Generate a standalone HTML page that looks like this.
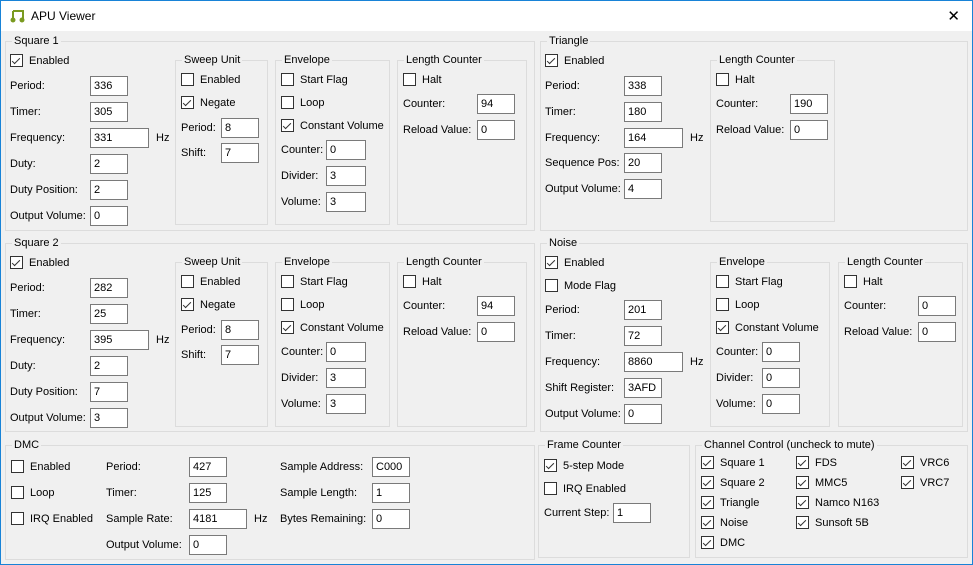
<!DOCTYPE html><html><head><meta charset="utf-8"><style>
*{box-sizing:border-box;margin:0;padding:0}
body{width:973px;height:565px;overflow:hidden;background:#f0f0f0;font:11px "Liberation Sans",sans-serif;color:#000;position:relative}
#win{position:absolute;left:0;top:0;width:973px;height:565px;border:1px solid #1883d7}
#tb{position:absolute;left:0;top:0;width:973px;height:31px;background:#fff;border:1px solid #1883d7;border-bottom:none}
#tb .tt{position:absolute;left:30px;top:8px;font-size:12px}
#tb .x{position:absolute;right:12px;top:6px;font-size:15px;font-weight:300}
.g{position:absolute;border:1px solid #dcdcdc}
.g>b{position:absolute;left:6px;top:-8px;font-weight:normal;background:#f0f0f0;padding:0 2px;line-height:14px;white-space:nowrap}
.l{position:absolute;line-height:14px;white-space:nowrap}
.t{position:absolute;height:20px;background:#fff;border:1px solid #7a7a7a;padding:2px 0 0 3px;line-height:14px}
.c{position:absolute;line-height:14px;white-space:nowrap;padding-left:19px}
.c::before{content:"";position:absolute;left:0;top:0;width:13px;height:13px;border:1px solid #333;background:#fff;box-sizing:border-box}
.c.k::after{content:"";position:absolute;left:4px;top:2px;width:3px;height:7px;border-right:1.3px solid #333;border-bottom:1.3px solid #333;transform:rotate(45deg)}
</style></head><body>
<div id="win"></div>
<div id="tb"><svg style="position:absolute;left:9px;top:7px" width="16" height="16"><path d="M3 3h10v9M3 3v9" stroke="#7a9a20" stroke-width="2" fill="none"/><circle cx="3" cy="12" r="2.5" fill="#7a9a20"/><circle cx="12" cy="12" r="2.5" fill="#7a9a20"/></svg><span class="tt">APU Viewer</span><span class="x">✕</span></div>

<!-- Square 1 -->
<div class="g" style="left:5px;top:41px;width:530px;height:190px"><b>Square 1</b></div>
<span class="c k" style="left:10px;top:54px">Enabled</span>
<span class="l" style="left:10px;top:79px">Period:</span><span class="t" style="left:90px;top:76px;width:38px">336</span>
<span class="l" style="left:10px;top:105px">Timer:</span><span class="t" style="left:90px;top:102px;width:38px">305</span>
<span class="l" style="left:10px;top:131px">Frequency:</span><span class="t" style="left:90px;top:128px;width:59px">331</span><span class="l" style="left:156px;top:131px">Hz</span>
<span class="l" style="left:10px;top:157px">Duty:</span><span class="t" style="left:90px;top:154px;width:38px">2</span>
<span class="l" style="left:10px;top:183px">Duty Position:</span><span class="t" style="left:90px;top:180px;width:38px">2</span>
<span class="l" style="left:10px;top:209px">Output Volume:</span><span class="t" style="left:90px;top:206px;width:38px">0</span>
<div class="g" style="left:175px;top:60px;width:93px;height:165px"><b>Sweep Unit</b></div>
<span class="c" style="left:181px;top:73px">Enabled</span>
<span class="c k" style="left:181px;top:96px">Negate</span>
<span class="l" style="left:181px;top:121px">Period:</span><span class="t" style="left:221px;top:118px;width:38px">8</span>
<span class="l" style="left:181px;top:146px">Shift:</span><span class="t" style="left:221px;top:143px;width:38px">7</span>
<div class="g" style="left:275px;top:60px;width:115px;height:165px"><b>Envelope</b></div>
<span class="c" style="left:281px;top:73px">Start Flag</span>
<span class="c" style="left:281px;top:96px">Loop</span>
<span class="c k" style="left:281px;top:119px">Constant Volume</span>
<span class="l" style="left:281px;top:143px">Counter:</span><span class="t" style="left:326px;top:140px;width:40px">0</span>
<span class="l" style="left:281px;top:169px">Divider:</span><span class="t" style="left:326px;top:166px;width:40px">3</span>
<span class="l" style="left:281px;top:195px">Volume:</span><span class="t" style="left:326px;top:192px;width:40px">3</span>
<div class="g" style="left:397px;top:60px;width:130px;height:165px"><b>Length Counter</b></div>
<span class="c" style="left:403px;top:73px">Halt</span>
<span class="l" style="left:403px;top:97px">Counter:</span><span class="t" style="left:477px;top:94px;width:38px">94</span>
<span class="l" style="left:403px;top:123px">Reload Value:</span><span class="t" style="left:477px;top:120px;width:38px">0</span>

<!-- Triangle -->
<div class="g" style="left:540px;top:41px;width:428px;height:190px"><b>Triangle</b></div>
<span class="c k" style="left:545px;top:54px">Enabled</span>
<span class="l" style="left:545px;top:79px">Period:</span><span class="t" style="left:624px;top:76px;width:38px">338</span>
<span class="l" style="left:545px;top:105px">Timer:</span><span class="t" style="left:624px;top:102px;width:38px">180</span>
<span class="l" style="left:545px;top:131px">Frequency:</span><span class="t" style="left:624px;top:128px;width:59px">164</span><span class="l" style="left:690px;top:131px">Hz</span>
<span class="l" style="left:545px;top:156px">Sequence Pos:</span><span class="t" style="left:624px;top:153px;width:38px">20</span>
<span class="l" style="left:545px;top:182px">Output Volume:</span><span class="t" style="left:624px;top:179px;width:38px">4</span>
<div class="g" style="left:710px;top:60px;width:125px;height:162px"><b>Length Counter</b></div>
<span class="c" style="left:716px;top:73px">Halt</span>
<span class="l" style="left:716px;top:97px">Counter:</span><span class="t" style="left:790px;top:94px;width:38px">190</span>
<span class="l" style="left:716px;top:123px">Reload Value:</span><span class="t" style="left:790px;top:120px;width:38px">0</span>

<!-- Square 2 -->
<div class="g" style="left:5px;top:243px;width:530px;height:189px"><b>Square 2</b></div>
<span class="c k" style="left:10px;top:256px">Enabled</span>
<span class="l" style="left:10px;top:281px">Period:</span><span class="t" style="left:90px;top:278px;width:38px">282</span>
<span class="l" style="left:10px;top:307px">Timer:</span><span class="t" style="left:90px;top:304px;width:38px">25</span>
<span class="l" style="left:10px;top:333px">Frequency:</span><span class="t" style="left:90px;top:330px;width:59px">395</span><span class="l" style="left:156px;top:333px">Hz</span>
<span class="l" style="left:10px;top:359px">Duty:</span><span class="t" style="left:90px;top:356px;width:38px">2</span>
<span class="l" style="left:10px;top:385px">Duty Position:</span><span class="t" style="left:90px;top:382px;width:38px">7</span>
<span class="l" style="left:10px;top:411px">Output Volume:</span><span class="t" style="left:90px;top:408px;width:38px">3</span>
<div class="g" style="left:175px;top:262px;width:93px;height:165px"><b>Sweep Unit</b></div>
<span class="c" style="left:181px;top:275px">Enabled</span>
<span class="c k" style="left:181px;top:298px">Negate</span>
<span class="l" style="left:181px;top:323px">Period:</span><span class="t" style="left:221px;top:320px;width:38px">8</span>
<span class="l" style="left:181px;top:348px">Shift:</span><span class="t" style="left:221px;top:345px;width:38px">7</span>
<div class="g" style="left:275px;top:262px;width:115px;height:165px"><b>Envelope</b></div>
<span class="c" style="left:281px;top:275px">Start Flag</span>
<span class="c" style="left:281px;top:298px">Loop</span>
<span class="c k" style="left:281px;top:321px">Constant Volume</span>
<span class="l" style="left:281px;top:345px">Counter:</span><span class="t" style="left:326px;top:342px;width:40px">0</span>
<span class="l" style="left:281px;top:371px">Divider:</span><span class="t" style="left:326px;top:368px;width:40px">3</span>
<span class="l" style="left:281px;top:397px">Volume:</span><span class="t" style="left:326px;top:394px;width:40px">3</span>
<div class="g" style="left:397px;top:262px;width:130px;height:165px"><b>Length Counter</b></div>
<span class="c" style="left:403px;top:275px">Halt</span>
<span class="l" style="left:403px;top:299px">Counter:</span><span class="t" style="left:477px;top:296px;width:38px">94</span>
<span class="l" style="left:403px;top:325px">Reload Value:</span><span class="t" style="left:477px;top:322px;width:38px">0</span>

<!-- Noise -->
<div class="g" style="left:540px;top:243px;width:428px;height:189px"><b>Noise</b></div>
<span class="c k" style="left:545px;top:256px">Enabled</span>
<span class="c" style="left:545px;top:279px">Mode Flag</span>
<span class="l" style="left:545px;top:303px">Period:</span><span class="t" style="left:624px;top:300px;width:38px">201</span>
<span class="l" style="left:545px;top:329px">Timer:</span><span class="t" style="left:624px;top:326px;width:38px">72</span>
<span class="l" style="left:545px;top:355px">Frequency:</span><span class="t" style="left:624px;top:352px;width:59px">8860</span><span class="l" style="left:690px;top:355px">Hz</span>
<span class="l" style="left:545px;top:381px">Shift Register:</span><span class="t" style="left:624px;top:378px;width:38px">3AFD</span>
<span class="l" style="left:545px;top:407px">Output Volume:</span><span class="t" style="left:624px;top:404px;width:38px">0</span>
<div class="g" style="left:710px;top:262px;width:120px;height:165px"><b>Envelope</b></div>
<span class="c" style="left:716px;top:275px">Start Flag</span>
<span class="c" style="left:716px;top:298px">Loop</span>
<span class="c k" style="left:716px;top:321px">Constant Volume</span>
<span class="l" style="left:716px;top:345px">Counter:</span><span class="t" style="left:762px;top:342px;width:38px">0</span>
<span class="l" style="left:716px;top:371px">Divider:</span><span class="t" style="left:762px;top:368px;width:38px">0</span>
<span class="l" style="left:716px;top:397px">Volume:</span><span class="t" style="left:762px;top:394px;width:38px">0</span>
<div class="g" style="left:838px;top:262px;width:125px;height:165px"><b>Length Counter</b></div>
<span class="c" style="left:844px;top:275px">Halt</span>
<span class="l" style="left:844px;top:299px">Counter:</span><span class="t" style="left:918px;top:296px;width:38px">0</span>
<span class="l" style="left:844px;top:325px">Reload Value:</span><span class="t" style="left:918px;top:322px;width:38px">0</span>

<!-- DMC -->
<div class="g" style="left:5px;top:445px;width:530px;height:115px"><b>DMC</b></div>
<span class="c" style="left:11px;top:460px">Enabled</span>
<span class="c" style="left:11px;top:486px">Loop</span>
<span class="c" style="left:11px;top:512px">IRQ Enabled</span>
<span class="l" style="left:106px;top:460px">Period:</span><span class="t" style="left:189px;top:457px;width:38px">427</span>
<span class="l" style="left:106px;top:486px">Timer:</span><span class="t" style="left:189px;top:483px;width:38px">125</span>
<span class="l" style="left:106px;top:512px">Sample Rate:</span><span class="t" style="left:189px;top:509px;width:58px">4181</span><span class="l" style="left:254px;top:512px">Hz</span>
<span class="l" style="left:106px;top:538px">Output Volume:</span><span class="t" style="left:189px;top:535px;width:38px">0</span>
<span class="l" style="left:280px;top:460px">Sample Address:</span><span class="t" style="left:372px;top:457px;width:38px">C000</span>
<span class="l" style="left:280px;top:486px">Sample Length:</span><span class="t" style="left:372px;top:483px;width:38px">1</span>
<span class="l" style="left:280px;top:512px">Bytes Remaining:</span><span class="t" style="left:372px;top:509px;width:38px">0</span>

<!-- Frame Counter -->
<div class="g" style="left:538px;top:445px;width:152px;height:113px"><b>Frame Counter</b></div>
<span class="c k" style="left:544px;top:459px">5-step Mode</span>
<span class="c" style="left:544px;top:482px">IRQ Enabled</span>
<span class="l" style="left:544px;top:506px">Current Step:</span><span class="t" style="left:613px;top:503px;width:38px">1</span>

<!-- Channel Control -->
<div class="g" style="left:695px;top:445px;width:273px;height:113px"><b>Channel Control (uncheck to mute)</b></div>
<span class="c k" style="left:701px;top:456px">Square 1</span>
<span class="c k" style="left:701px;top:476px">Square 2</span>
<span class="c k" style="left:701px;top:496px">Triangle</span>
<span class="c k" style="left:701px;top:516px">Noise</span>
<span class="c k" style="left:701px;top:536px">DMC</span>
<span class="c k" style="left:796px;top:456px">FDS</span>
<span class="c k" style="left:796px;top:476px">MMC5</span>
<span class="c k" style="left:796px;top:496px">Namco N163</span>
<span class="c k" style="left:796px;top:516px">Sunsoft 5B</span>
<span class="c k" style="left:901px;top:456px">VRC6</span>
<span class="c k" style="left:901px;top:476px">VRC7</span>
</body></html>
